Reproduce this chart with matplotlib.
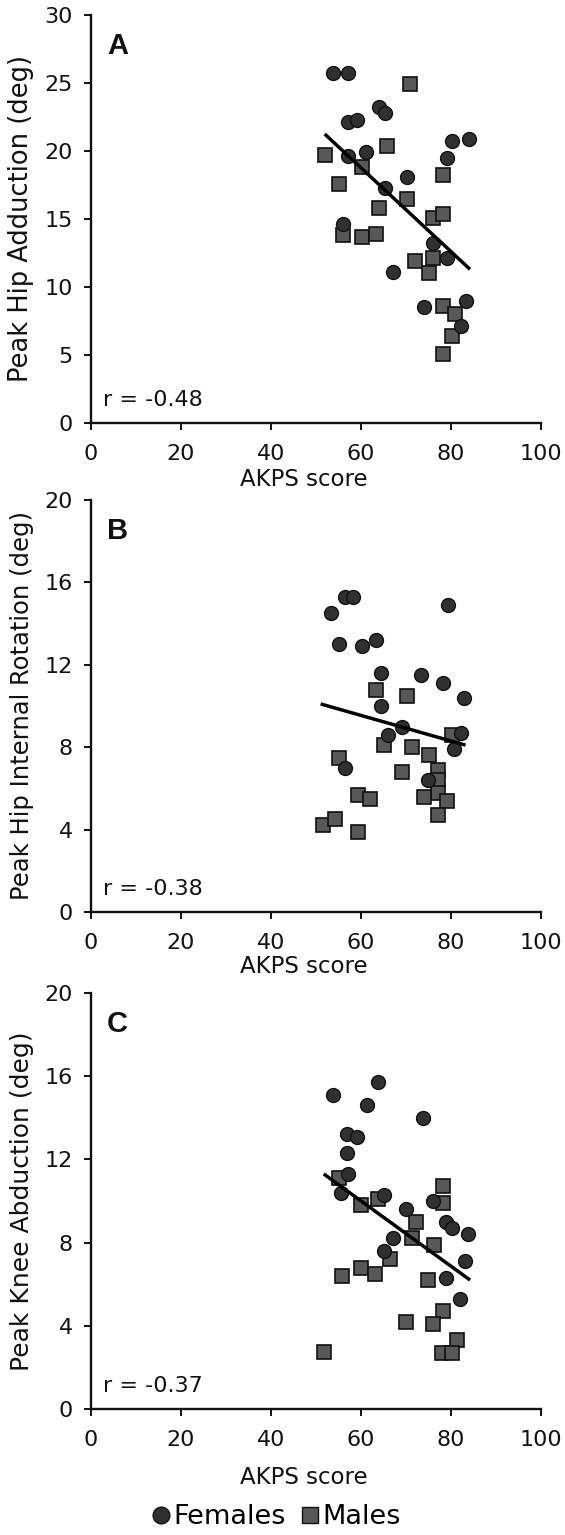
import matplotlib
matplotlib.use("Agg")
import matplotlib.pyplot as plt
from matplotlib.lines import Line2D

plt.rcParams['font.family'] = ['DejaVu Sans']

# ---------------- data ----------------
# Panel A: Peak Hip Adduction
a_fem_x = [53.8, 57.2, 64.1, 65.4, 57.2, 59.2, 80.3, 84.1, 57.2, 61.2, 79.2, 70.3, 65.4, 56.1, 76.1, 79.2, 67.2, 74.1, 83.4, 82.3]
a_fem_y = [25.7, 25.7, 23.2, 22.8, 22.1, 22.3, 20.7, 20.9, 19.6, 19.9, 19.5, 18.1, 17.3, 14.6, 13.2, 12.1, 11.1, 8.5, 9.0, 7.1]
a_mal_x = [71.0, 65.8, 52.0, 60.3, 55.2, 78.3, 70.3, 64.1, 76.1, 78.3, 56.1, 60.3, 63.4, 72.1, 76.1, 75.2, 78.3, 81.0, 80.3, 78.3]
a_mal_y = [24.9, 20.4, 19.7, 18.8, 17.6, 18.2, 16.5, 15.8, 15.1, 15.4, 13.8, 13.7, 13.9, 11.9, 12.1, 11.0, 8.6, 8.0, 6.4, 5.1]
a_fit_x = [52.0, 84.3]
a_fit_y = [21.25, 11.3]

# Panel B: Peak Hip Internal Rotation
b_fem_x = [56.4, 58.2, 53.3, 79.3, 55.2, 60.2, 63.3, 64.5, 73.3, 78.2, 83.0, 64.5, 66.1, 69.1, 82.3, 80.8, 56.4, 75.0]
b_fem_y = [15.3, 15.3, 14.5, 14.9, 13.0, 12.9, 13.2, 11.6, 11.5, 11.1, 10.4, 10.0, 8.6, 9.0, 8.7, 7.9, 7.0, 6.4]
b_mal_x = [63.4, 70.2, 65.2, 71.3, 80.2, 75.2, 55.2, 69.1, 77.2, 77.2, 77.2, 74.1, 79.1, 59.5, 62.1, 77.2, 51.6, 54.3, 59.5]
b_mal_y = [10.8, 10.5, 8.1, 8.0, 8.6, 7.6, 7.5, 6.8, 6.9, 6.4, 5.8, 5.6, 5.4, 5.7, 5.5, 4.7, 4.2, 4.5, 3.9]
b_fit_x = [51.1, 83.3]
b_fit_y = [10.1, 8.1]

# Panel C: Peak Knee Abduction
c_fem_x = [63.9, 53.9, 61.3, 73.9, 57.0, 59.1, 57.0, 57.1, 55.6, 65.2, 76.1, 70.1, 79.0, 80.2, 83.9, 67.1, 65.2, 83.2, 79.0, 82.1]
c_fem_y = [15.7, 15.1, 14.6, 14.0, 13.2, 13.1, 12.3, 11.3, 10.4, 10.3, 10.0, 9.6, 9.0, 8.7, 8.4, 8.2, 7.6, 7.1, 6.3, 5.3]
c_mal_x = [55.2, 78.2, 63.9, 78.2, 60.1, 72.2, 71.3, 76.3, 66.4, 60.1, 63.2, 55.8, 75.0, 78.2, 70.1, 76.1, 81.3, 51.9, 78.0, 80.2]
c_mal_y = [11.1, 10.7, 10.1, 9.9, 9.8, 9.0, 8.2, 7.9, 7.2, 6.8, 6.5, 6.4, 6.2, 4.7, 4.2, 4.1, 3.3, 2.75, 2.7, 2.7]
c_fit_x = [51.8, 84.3]
c_fit_y = [11.3, 6.2]

panel_letters = ["A", "B", "C"]
y_labels = ["Peak Hip Adduction (deg)", "Peak Hip Internal Rotation (deg)", "Peak Knee Abduction (deg)"]
r_texts = ["r = -0.48", "r = -0.38", "r = -0.37"]
y_ticks = [[0, 5, 10, 15, 20, 25, 30], [0, 4, 8, 12, 16, 20], [0, 4, 8, 12, 16, 20]]
x_ticks = [0, 20, 40, 60, 80, 100]
x_label = "AKPS score"
legend_labels = ["Females", "Males"]

# ---------------- layout ----------------
W, H = 565, 1535
fig = plt.figure(figsize=(W / 100, H / 100), dpi=100)

# axes rectangles in pixels (left, top, right, bottom)
rects = [(90.7, 15, 540.7, 423), (90.7, 500, 540.7, 912), (90.7, 993, 540.7, 1409)]
xlabel_y = [-0.11, -0.104, -0.137]
ylabel_fs = [18.5, 17.5, 18]

fem_col = "#303030"
mal_col = "#585858"
edge_col = "#111111"
txt_col = "#111111"

data = [
    (a_fem_x, a_fem_y, a_mal_x, a_mal_y, a_fit_x, a_fit_y),
    (b_fem_x, b_fem_y, b_mal_x, b_mal_y, b_fit_x, b_fit_y),
    (c_fem_x, c_fem_y, c_mal_x, c_mal_y, c_fit_x, c_fit_y),
]

for i, (l, t, r, b) in enumerate(rects):
    ax = fig.add_axes([l / W, 1 - b / H, (r - l) / W, (b - t) / H])
    ax.patch.set_alpha(0)
    fx, fy, mx, my, lx, ly = data[i]
    ax.plot(mx, my, linestyle="none", marker="s", markersize=9.5,
            markerfacecolor=mal_col, markeredgecolor=edge_col, markeredgewidth=1.2, zorder=3)
    ax.plot(fx, fy, linestyle="none", marker="o", markersize=10,
            markerfacecolor=fem_col, markeredgecolor=edge_col, markeredgewidth=1.0, zorder=3)
    ax.plot(lx, ly, color="black", linewidth=2.5, zorder=4, solid_capstyle="butt")

    yt = y_ticks[i]
    ax.set_xlim(0, 100)
    ax.set_ylim(0, yt[-1])
    ax.set_xticks(x_ticks)
    ax.set_yticks(yt)
    for s in ["top", "right"]:
        ax.spines[s].set_visible(False)
    for s in ["left", "bottom"]:
        ax.spines[s].set_linewidth(1.7)
        ax.spines[s].set_color(edge_col)
    ax.tick_params(axis="both", direction="out", length=5, width=1.4, colors=edge_col,
                   labelsize=16, labelcolor=txt_col)
    ax.tick_params(axis="x", pad=10)
    ax.tick_params(axis="y", pad=8)

    ax.set_ylabel(y_labels[i], fontsize=ylabel_fs[i], color=txt_col)
    ax.yaxis.set_label_coords(-0.126, 0.5)
    ax.set_xlabel(x_label, fontsize=16.5, color=txt_col)
    ax.xaxis.set_label_coords(0.474, xlabel_y[i])

    ax.text(0.036, 0.958, panel_letters[i], transform=ax.transAxes, fontsize=21,
            fontweight="bold", ha="left", va="top", color=txt_col,
            family=["Liberation Sans", "DejaVu Sans"])
    ax.text(0.027, 0.056, r_texts[i], transform=ax.transAxes, fontsize=16,
            ha="left", va="center", color=txt_col)

handles = [
    Line2D([], [], linestyle="none", marker="o", markersize=12, markerfacecolor=fem_col,
           markeredgecolor=edge_col),
    Line2D([], [], linestyle="none", marker="s", markersize=11, markerfacecolor=mal_col,
           markeredgecolor=edge_col),
]
fig.legend(handles, legend_labels, loc="center", bbox_to_anchor=(0.487, 18 / H),
           ncol=2, frameon=False, fontsize=19.5, handletextpad=0.05, columnspacing=0.5,
           handlelength=0.8, borderpad=0)

fig.savefig("out.png", dpi=100)
